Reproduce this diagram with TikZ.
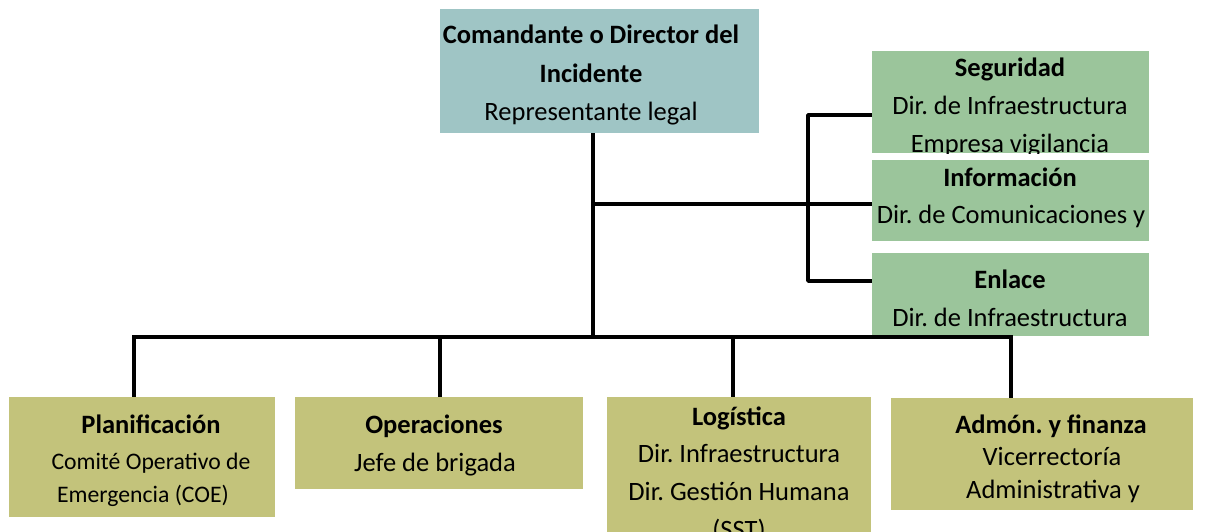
\documentclass[tikz,border=0pt]{standalone}
\usepackage{fontspec}
\setmainfont{Carlito}
\frenchspacing
\definecolor{cmdcol}{HTML}{9FC5C5}
\definecolor{staffcol}{HTML}{9BC59B}
\definecolor{genecol}{HTML}{C3C37B}
\tikzset{
  boxnode/.style={rectangle, draw=none, inner sep=0pt, anchor=north west},
  txt/.style={anchor=base, inner sep=0pt, font=\fontsize{26.5}{30}\selectfont},
  btxt/.style={anchor=base, inner sep=0pt, font=\fontsize{26.5}{30}\selectfont\bfseries},
  stxt/.style={anchor=base, inner sep=0pt, font=\fontsize{23.7}{28}\selectfont},
  conn/.style={line width=3.5pt, black, line join=round, line cap=butt}
}
\begin{document}
\begin{tikzpicture}[x=1pt,y=-1pt]
\clip (0,0) rectangle (1212,531);
\fill[white] (0,0) rectangle (1212,531);
% ---------- boxes ----------
\node[boxnode, fill=cmdcol, minimum width=319pt, minimum height=124pt] (cmd) at (440,9) {};
\node[boxnode, fill=staffcol, minimum width=277pt, minimum height=102pt] (seg) at (872,51) {};
\node[boxnode, fill=staffcol, minimum width=277pt, minimum height=81pt] (inf) at (872,160) {};
\node[boxnode, fill=staffcol, minimum width=277pt, minimum height=83pt] (enl) at (872,253) {};
\node[boxnode, fill=genecol, minimum width=266pt, minimum height=120pt] (pla) at (9,397) {};
\node[boxnode, fill=genecol, minimum width=288pt, minimum height=92pt] (ope) at (295,397) {};
\node[boxnode, fill=genecol, minimum width=264pt, minimum height=140pt] (log) at (607,397) {};
\node[boxnode, fill=genecol, minimum width=302pt, minimum height=112pt] (adm) at (891,398) {};
% ---------- texts ----------
\node[btxt] (cmdA) at (591,43) {Comandante o Director del};
\node[btxt] (cmdB) at (591,82) {Incidente};
\node[txt]  (cmdC) at (591,120) {Representante legal};
\begin{scope}
\clip (872,51) rectangle (1149,153);
\node[btxt] (segA) at (1010,76) {Seguridad};
\node[txt]  (segB) at (1010,114) {Dir. de Infraestructura};
\node[txt]  (segC) at (1010,152) {Empresa vigilancia};
\end{scope}
\begin{scope}
\clip (872,160) rectangle (1149,241);
\node[btxt] (infA) at (1010,186) {Información};
\node[txt]  (infB) at (1011,223) {Dir. de Comunicaciones y};
\end{scope}
\node[btxt] (enlA) at (1010,288) {Enlace};
\node[txt]  (enlB) at (1010,326) {Dir. de Infraestructura};
\node[btxt] (plaA) at (151,433) {Planificación};
\node[stxt] (plaB) at (151,469) {Comité Operativo de};
\node[stxt] (plaC) at (143,502) {Emergencia (COE)};
\node[btxt] (opeA) at (434,433) {Operaciones};
\node[txt]  (opeB) at (435,471) {Jefe de brigada};
\node[btxt] (logA) at (739,425) {Logística};
\node[txt]  (logB) at (739,462) {Dir. Infraestructura};
\node[txt]  (logC) at (739,500) {Dir. Gestión Humana};
\node[txt]  (logD) at (739,538) {(SST)};
\node[btxt] (admA) at (1051,433) {Admón. y finanza};
\node[txt]  (admB) at (1052,465) {Vicerrectoría};
\node[txt]  (admC) at (1053,498) {Administrativa y};
% ---------- junctions ----------
\coordinate (trunk) at (593,337);
\coordinate (jA) at (593,204);
\coordinate (jB) at (808,204);
\coordinate (bL) at (134,337);
\coordinate (bR) at (1011,337);
\coordinate (x2) at (440,337);
\coordinate (x3) at (733,337);
% ---------- connectors ----------
\draw[conn] (cmd.south -| trunk) -- (trunk);
\draw[conn] (jA) -- (inf.west |- jA);
\draw[conn] (seg.west |- 0,115) -- (808,115) -- (808,281) -- (enl.west |- 0,281);
\draw[conn] ([xshift=-1.75pt]bL) -- ([xshift=1.75pt]bR);
\draw[conn] (bL) -- (pla.north -| bL);
\draw[conn] (x2) -- (ope.north -| x2);
\draw[conn] (x3) -- (log.north -| x3);
\draw[conn] (bR) -- (adm.north -| bR);
\end{tikzpicture}
\end{document}
